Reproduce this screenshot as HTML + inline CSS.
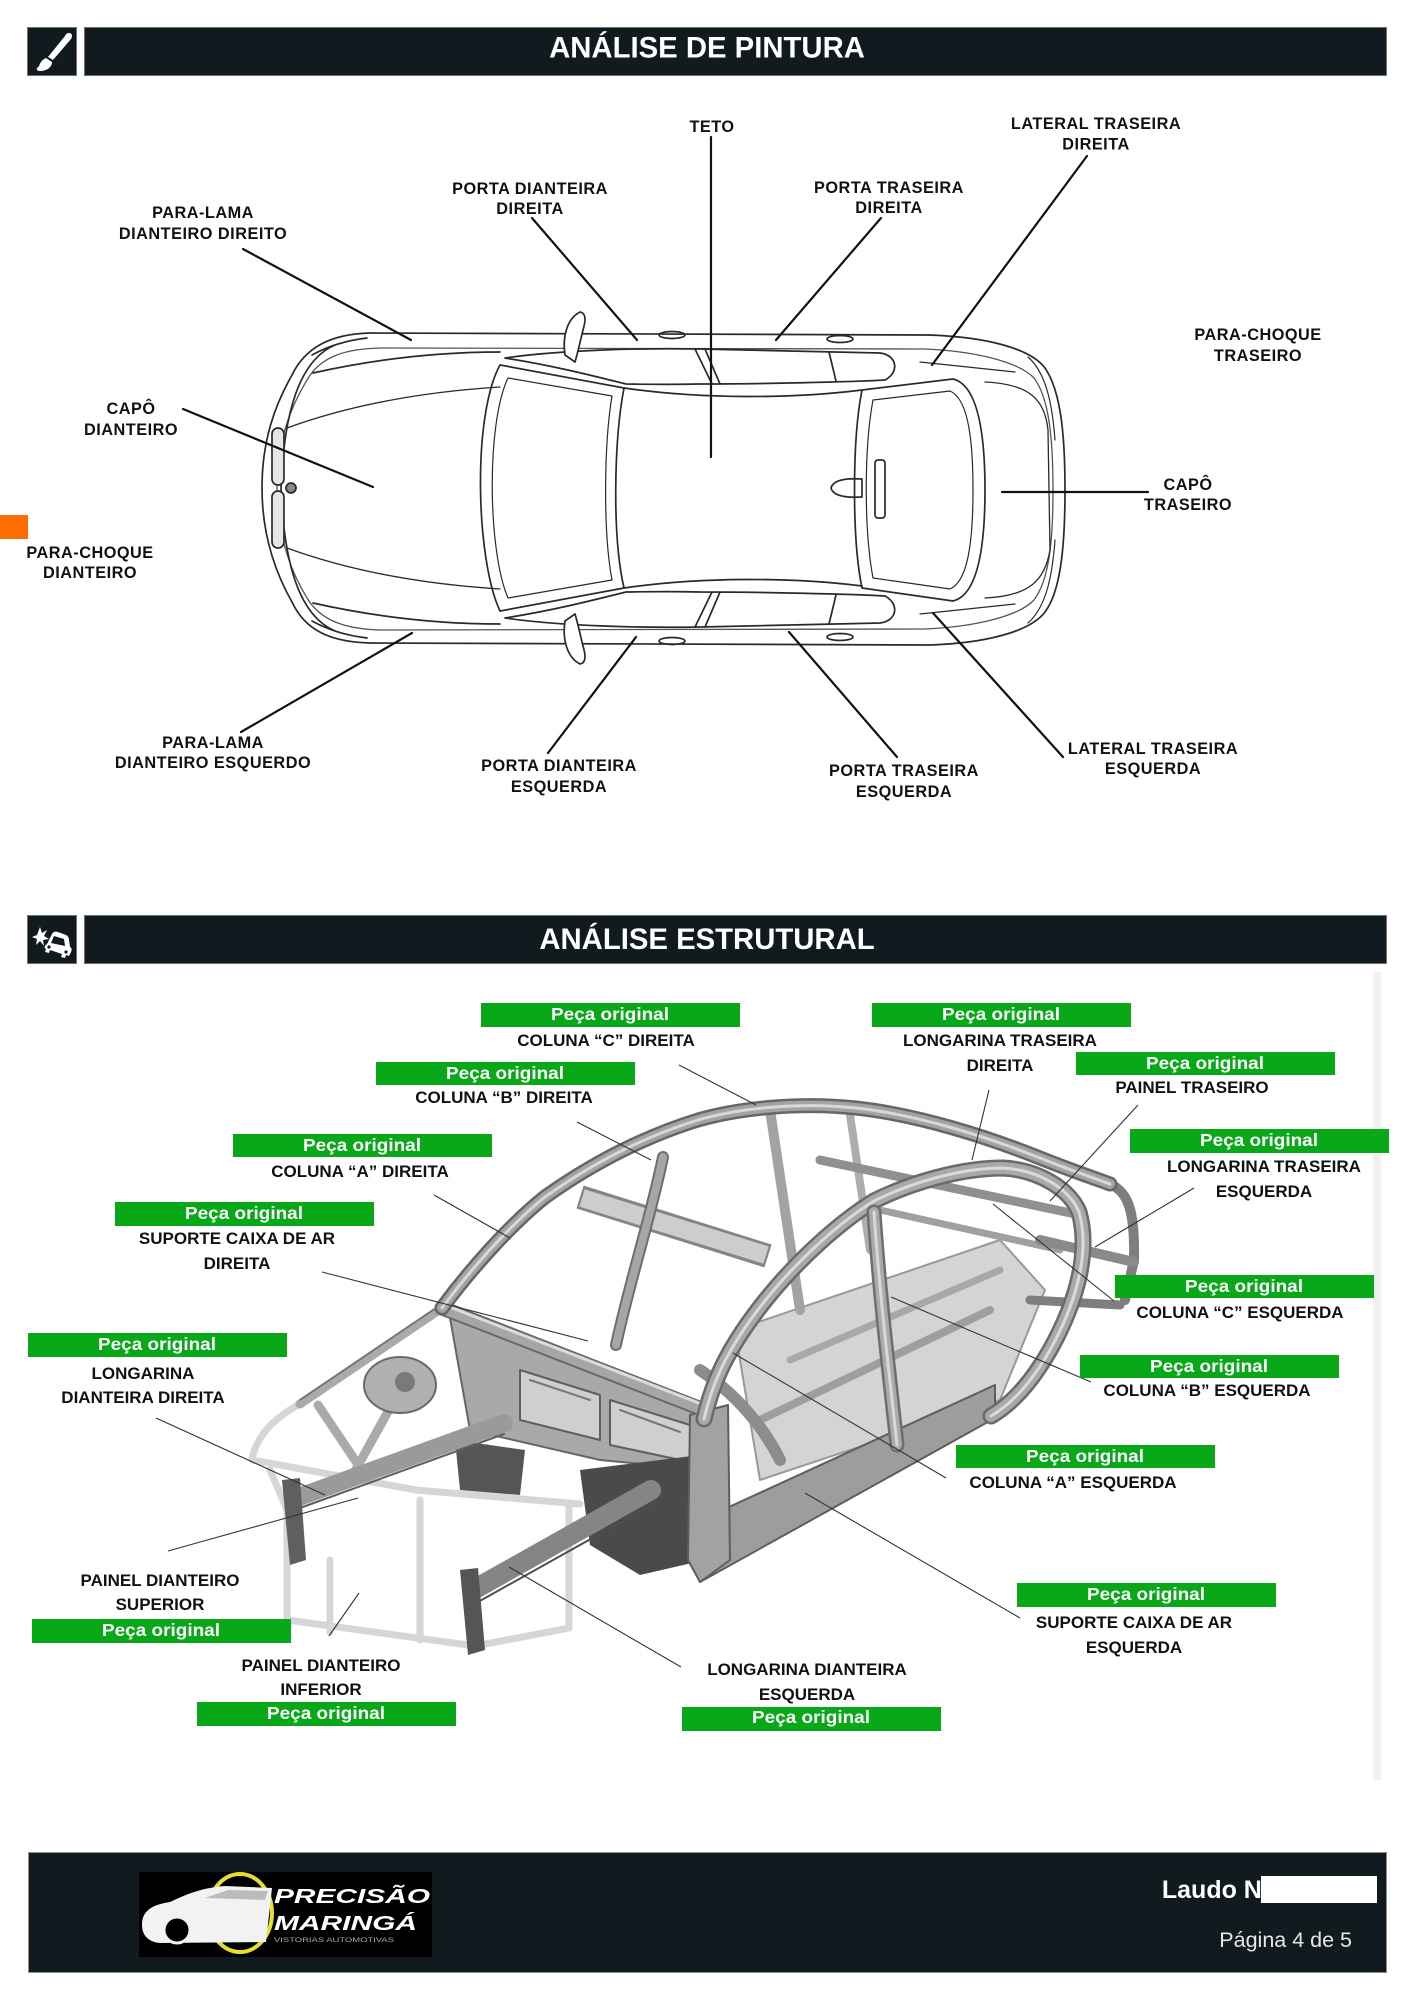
<!DOCTYPE html>
<html><head><meta charset="utf-8"><style>
html,body{margin:0;padding:0;background:#fff;}
body{width:1414px;height:2000px;overflow:hidden;}
svg{display:block;}
.pl{font-family:"Liberation Sans",Arial,sans-serif;font-weight:bold;font-size:16.3px;letter-spacing:0.5px;fill:#111;}
.sl{font-family:"Liberation Sans",Arial,sans-serif;font-weight:bold;font-size:17px;fill:#111;}
.po{font-family:"Liberation Sans",Arial,sans-serif;font-weight:bold;font-size:17.5px;fill:#fff;}
.tt{font-family:"Liberation Sans",Arial,sans-serif;font-weight:bold;font-size:29.3px;fill:#fff;}
</style></head><body>
<svg width="1414" height="2000" viewBox="0 0 1414 2000" xmlns="http://www.w3.org/2000/svg">
<rect width="1414" height="2000" fill="#fff"/>

<!-- ===== HEADER 1 ===== -->
<rect x="27.5" y="27.5" width="49" height="48" fill="#111a1f" stroke="#6b7378" stroke-width="1"/>
<rect x="84.5" y="27.5" width="1302" height="48" fill="#111a1f" stroke="#6b7378" stroke-width="1"/>
<path d="M69,33 C72,33 73,36 71,39 L53,60 L48,57 L65,36 C66,34 67,33 69,33 Z" fill="#fff"/>
<path d="M46,58 L52,62 C52,67 47,71 40,71 C38,71 36,70 37,68 C40,67 39,61 46,58 Z" fill="#fff"/>
<text class="tt" x="707" y="57.5" text-anchor="middle">ANÁLISE DE PINTURA</text>

<!-- orange marker -->
<rect x="0" y="515" width="28" height="24" fill="#ff6d00"/>

<!-- ===== CAR TOP VIEW ===== -->
<g fill="none" stroke="#2a2a2a" stroke-width="1.7" stroke-linejoin="round" stroke-linecap="round">
 <path d="M370,333 L930,335 C985,337 1030,348 1045,368 C1060,390 1065,430 1065,490 C1065,550 1060,592 1045,612 C1030,632 985,643 930,645 L370,643 C330,642 305,630 292,602 C275,572 262,535 262,488 C262,440 275,405 292,375 C305,348 330,334 370,333 Z"/>
 <path stroke="#555" stroke-width="1.3" d="M385,348 L925,349 C972,351 1018,361 1034,378 C1049,398 1053,438 1053,490 C1053,542 1049,580 1034,600 C1018,617 972,627 925,629 L385,630 C345,630 320,620 307,598 C290,570 277,535 277,488 C277,442 290,408 307,380 C320,357 345,348 385,348 Z"/>
 <path d="M335,345 C300,360 284,410 281,488 C284,566 300,616 335,631"/>
 <path d="M312,355 C330,345 350,340 367,338"/>
 <path d="M312,621 C330,631 350,636 367,638"/>
 <path d="M313,373 C380,358 440,352 500,352"/>
 <path d="M313,603 C380,618 440,624 500,624"/>
 <path stroke-width="1.3" d="M287,428 C350,405 420,392 500,387"/>
 <path stroke-width="1.3" d="M287,548 C350,571 420,584 500,589"/>
 <rect x="272" y="428" width="12" height="57" rx="6" fill="#e6e6e6"/>
 <rect x="272" y="491" width="12" height="57" rx="6" fill="#e6e6e6"/>
 <circle cx="291" cy="488" r="5" fill="#888"/>
 <path d="M500,365 L624,388 C614,440 612,536 624,588 L500,611 C476,560 472,416 500,365 Z"/>
 <path stroke-width="1.2" d="M508,378 L612,396 C604,444 603,532 612,580 L508,598 C488,552 486,424 508,378 Z"/>
 <path d="M624,388 C700,399 790,399 862,390"/>
 <path d="M624,588 C700,577 790,577 862,586"/>
 <path d="M505,358 C560,350 640,348 700,349 L880,353 C897,355 900,372 885,380 C850,382 760,384 700,384 C660,385 640,384 626,384 C590,375 550,365 505,358 Z"/>
 <path d="M505,618 C560,626 640,628 700,627 L880,623 C897,621 900,604 885,596 C850,594 760,592 700,592 C660,591 640,592 626,592 C590,601 550,611 505,618 Z"/>
 <path d="M695,349 L712,384 M705,349 L720,384 M695,627 L712,592 M705,627 L720,592"/>
 <path d="M829,352 L836,381 M829,624 L836,595"/>
 <path d="M862,390 L953,379 C974,384 985,420 985,490 C985,560 974,596 953,601 L862,588 C852,540 852,440 862,390 Z"/>
 <path stroke-width="1.2" d="M873,400 L950,391 C966,398 973,430 973,490 C973,550 966,582 950,589 L873,578 C864,530 864,448 873,400 Z"/>
 <rect x="875" y="460" width="10" height="58" rx="3"/>
 <path d="M831,488 C833,480 845,478 862,479 L862,497 C845,498 833,496 831,488 Z"/>
 <path stroke-width="1.3" d="M985,382 C1030,384 1045,400 1048,430 L1050,550 C1045,580 1030,596 985,598"/>
 <path stroke-width="1.2" d="M920,362 L1015,372 M920,614 L1015,604"/>
 <path stroke-width="1.2" d="M1028,357 C1045,372 1052,400 1055,440 M1028,623 C1045,608 1052,580 1055,540"/>
 <path fill="#fff" d="M565,355 C562,335 568,318 580,312 C586,313 586,320 583,330 C580,342 578,352 575,362 Z"/>
 <path fill="#fff" d="M565,621 C562,641 568,658 580,664 C586,663 586,656 583,646 C580,634 578,624 575,614 Z"/>
 <ellipse cx="672" cy="335" rx="13" ry="3.5"/>
 <ellipse cx="840" cy="339" rx="13" ry="3.5"/>
 <ellipse cx="672" cy="641" rx="13" ry="3.5"/>
 <ellipse cx="840" cy="637" rx="13" ry="3.5"/>
</g>

<!-- leader lines painting -->
<g stroke="#111" stroke-width="2.2" stroke-linecap="round">
 <line x1="243" y1="249" x2="411" y2="340"/>
 <line x1="532" y1="218" x2="637" y2="340"/>
 <line x1="711" y1="137" x2="711" y2="457"/>
 <line x1="881" y1="218" x2="776" y2="340"/>
 <line x1="1087" y1="156" x2="932" y2="365"/>
 <line x1="183" y1="409" x2="373" y2="487"/>
 <line x1="1002" y1="492" x2="1148" y2="492"/>
 <line x1="412" y1="633" x2="241" y2="732"/>
 <line x1="548" y1="753" x2="636" y2="637"/>
 <line x1="897" y1="757" x2="789" y2="632"/>
 <line x1="1063" y1="757" x2="933" y2="613"/>
</g>

<g class="pl" text-anchor="middle">
 <text x="712" y="132">TETO</text>
 <text x="1096" y="129">LATERAL TRASEIRA</text><text x="1096" y="149.5">DIREITA</text>
 <text x="530" y="194">PORTA DIANTEIRA</text><text x="530" y="214">DIREITA</text>
 <text x="889" y="193">PORTA TRASEIRA</text><text x="889" y="213">DIREITA</text>
 <text x="203" y="218">PARA-LAMA</text><text x="203" y="239">DIANTEIRO DIREITO</text>
 <text x="1258" y="340">PARA-CHOQUE</text><text x="1258" y="361">TRASEIRO</text>
 <text x="131" y="414">CAPÔ</text><text x="131" y="435">DIANTEIRO</text>
 <text x="1188" y="490">CAPÔ</text><text x="1188" y="510">TRASEIRO</text>
 <text x="90" y="558">PARA-CHOQUE</text><text x="90" y="578">DIANTEIRO</text>
 <text x="213" y="748">PARA-LAMA</text><text x="213" y="768">DIANTEIRO ESQUERDO</text>
 <text x="559" y="771">PORTA DIANTEIRA</text><text x="559" y="792">ESQUERDA</text>
 <text x="904" y="776">PORTA TRASEIRA</text><text x="904" y="797">ESQUERDA</text>
 <text x="1153" y="754">LATERAL TRASEIRA</text><text x="1153" y="774">ESQUERDA</text>
</g>

<!-- ===== HEADER 2 ===== -->
<rect x="27.5" y="915.5" width="49" height="48" fill="#111a1f" stroke="#6b7378" stroke-width="1"/>
<rect x="84.5" y="915.5" width="1302" height="48" fill="#111a1f" stroke="#6b7378" stroke-width="1"/>
<polygon points="40,927 42,933 47,930 44,936 49,939 43,940 44,946 40,941 36,945 37,939 32,937 37,935" fill="#fff"/>
<path d="M47,944 L52,934 C53,932 55,931 58,932 L66,935 C68,936 69,938 69,940 L70,947 C72,948 72,950 71,952 L69,956 L66,955 L65,958 L61,957 L62,954 L50,950 L49,953 L45,952 L46,949 C44,948 44,946 47,944 Z" fill="#fff"/>
<path d="M51,943 L54,936 L64,939 L65,946 Z" fill="#111a1f"/>
<circle cx="49" cy="947" r="1.6" fill="#111a1f"/><circle cx="66" cy="952" r="1.6" fill="#111a1f"/>
<text class="tt" x="707" y="949" text-anchor="middle">ANÁLISE ESTRUTURAL</text>

<rect x="1373" y="972" width="8" height="808" fill="#f1f1f1"/>

<!-- ===== CHASSIS ===== -->
<g stroke-linecap="round" stroke-linejoin="round" fill="none">
 <g stroke="#d6d6d6" stroke-width="7">
  <path d="M252,1460 L416,1490 L580,1504"/>
  <path d="M287,1500 L287,1620 L475,1646 L569,1628 L569,1504"/>
  <path d="M300,1404 C270,1420 255,1440 252,1460"/>
  <path d="M330,1560 L330,1632"/>
  <path d="M420,1500 L420,1640"/>
  <path d="M270,1470 L300,1540"/>
 </g>
 <g stroke="#aaaaaa" stroke-width="9">
  <path d="M300,1404 L442,1308"/>
  <path d="M318,1405 L365,1475"/>
  <path d="M350,1480 L400,1390"/>
 </g>
 <path d="M300,1400 L442,1304" stroke="#6e6e6e" stroke-width="1.5"/>
 <ellipse cx="400" cy="1385" rx="36" ry="28" fill="#b0b0b0" stroke="#6a6a6a" stroke-width="2"/>
 <circle cx="405" cy="1382" r="10" fill="#7a7a7a"/>
 <path d="M450,1318 L704,1412 L706,1470 L600,1460 L470,1430 Z" fill="#a9a9a9" stroke="#666" stroke-width="2"/>
 <path d="M520,1370 L600,1395 L600,1440 L520,1420 Z M610,1400 L690,1425 L690,1462 L610,1445 Z" fill="#cfcfcf" stroke="#5e5e5e" stroke-width="2"/>
 <path d="M530,1380 L590,1400 M620,1410 L680,1432" stroke="#777" stroke-width="2"/>
 <path d="M455,1440 L525,1450 L520,1495 L460,1490 Z" fill="#555"/>
 <path d="M580,1470 L700,1455 L705,1560 L640,1575 L590,1545 Z" fill="#4a4a4a"/>
 <path d="M299,1497 L504,1423" stroke="#9a9a9a" stroke-width="18"/>
 <path d="M300,1508 L504,1434" stroke="#5e5e5e" stroke-width="2"/>
 <path d="M282,1480 L300,1478 L306,1560 L290,1565 Z" fill="#5f5f5f"/>
 <path d="M735,1330 L1000,1240 L1045,1290 L1000,1400 L760,1480 Z" fill="#d4d4d4" stroke="#999" stroke-width="2"/>
 <path d="M760,1420 L990,1310" stroke="#9e9e9e" stroke-width="8"/>
 <path d="M790,1360 L1000,1270" stroke="#a8a8a8" stroke-width="7"/>
 <path d="M700,1370 C730,1390 760,1420 780,1460" stroke="#8c8c8c" stroke-width="12"/>
 <path d="M475,1589 L651,1490" stroke="#858585" stroke-width="20"/>
 <path d="M478,1602 L655,1503" stroke="#4e4e4e" stroke-width="2"/>
 <path d="M460,1570 L478,1568 L485,1650 L468,1655 Z" fill="#555"/>
 <path d="M705,1518 L995,1385 L995,1418 L700,1582 Z" fill="#9d9d9d" stroke="#5e5e5e" stroke-width="2"/>
 <path d="M690,1415 L728,1405 L730,1560 L700,1582 L688,1560 Z" fill="#a2a2a2" stroke="#5e5e5e" stroke-width="2"/>
 <path d="M442,1308 L704,1410" stroke="#6a6a6a" stroke-width="15"/>
 <path d="M442,1308 L704,1410" stroke="#a6a6a6" stroke-width="11"/>
 <path d="M442,1304 L704,1405" stroke="#dcdcdc" stroke-width="3"/>
 <path d="M580,1197 L768,1256" stroke="#858585" stroke-width="24" stroke-linecap="butt"/>
 <path d="M582,1198 L766,1255" stroke="#cdcdcd" stroke-width="18" stroke-linecap="butt"/>
 <path d="M663,1157 C650,1220 630,1280 616,1345" stroke="#6e6e6e" stroke-width="12"/>
 <path d="M663,1157 C650,1220 630,1280 616,1345" stroke="#a6a6a6" stroke-width="8"/>
 <path d="M770,1110 C780,1180 790,1240 800,1310" stroke="#a3a3a3" stroke-width="10"/>
 <path d="M850,1115 L870,1250" stroke="#adadad" stroke-width="8"/>
 <path d="M820,1160 L1080,1215" stroke="#909090" stroke-width="9"/>
 <path d="M880,1210 L1060,1250" stroke="#a0a0a0" stroke-width="7"/>
 <path d="M1110,1184 C1128,1192 1135,1210 1134,1260 L1125,1300" stroke="#7e7e7e" stroke-width="10"/>
 <path d="M1040,1240 L1134,1262" stroke="#8a8a8a" stroke-width="10"/>
 <path d="M1030,1300 L1120,1305" stroke="#7e7e7e" stroke-width="9"/>
 <path d="M442,1308 C470,1270 510,1225 545,1197 C590,1165 640,1138 698,1120 C740,1108 800,1102 856,1108 C920,1115 990,1138 1040,1158 C1075,1172 1100,1180 1110,1184" stroke="#666" stroke-width="15"/>
 <path d="M442,1308 C470,1270 510,1225 545,1197 C590,1165 640,1138 698,1120 C740,1108 800,1102 856,1108 C920,1115 990,1138 1040,1158 C1075,1172 1100,1180 1110,1184" stroke="#a3a3a3" stroke-width="10"/>
 <path d="M442,1308 C470,1270 510,1225 545,1197 C590,1165 640,1138 698,1120 C740,1108 800,1102 856,1108 C920,1115 990,1138 1040,1158 C1075,1172 1100,1180 1110,1184" stroke="#d8d8d8" stroke-width="3"/>
 <path d="M704,1419 C712,1385 725,1350 768,1297 C800,1258 840,1222 874,1201 C910,1183 960,1168 1003,1168 C1040,1170 1070,1190 1079,1212 C1090,1250 1078,1300 1050,1350 C1030,1385 1010,1405 991,1416" stroke="#6a6a6a" stroke-width="17"/>
 <path d="M704,1419 C712,1385 725,1350 768,1297 C800,1258 840,1222 874,1201 C910,1183 960,1168 1003,1168 C1040,1170 1070,1190 1079,1212 C1090,1250 1078,1300 1050,1350 C1030,1385 1010,1405 991,1416" stroke="#a8a8a8" stroke-width="12"/>
 <path d="M704,1419 C712,1385 725,1350 768,1297 C800,1258 840,1222 874,1201 C910,1183 960,1168 1003,1168 C1040,1170 1070,1190 1079,1212 C1090,1250 1078,1300 1050,1350 C1030,1385 1010,1405 991,1416" stroke="#dadada" stroke-width="3"/>
 <path d="M874,1212 C880,1300 890,1380 897,1445" stroke="#6e6e6e" stroke-width="15"/>
 <path d="M874,1212 C880,1300 890,1380 897,1445" stroke="#aaaaaa" stroke-width="10"/>
 <path d="M874,1212 C880,1300 890,1380 897,1445" stroke="#d8d8d8" stroke-width="3"/>
</g>

<!-- leader lines structural -->
<g stroke="#333" stroke-width="1.1">
 <line x1="679" y1="1065" x2="756" y2="1105"/>
 <line x1="989" y1="1090" x2="972" y2="1160"/>
 <line x1="577" y1="1122" x2="651" y2="1160"/>
 <line x1="1138" y1="1105" x2="1050" y2="1201"/>
 <line x1="434" y1="1195" x2="510" y2="1238"/>
 <line x1="1194" y1="1188" x2="1095" y2="1247"/>
 <line x1="322" y1="1272" x2="588" y2="1341"/>
 <line x1="1114" y1="1301" x2="993" y2="1204"/>
 <line x1="156" y1="1418" x2="325" y2="1495"/>
 <line x1="1091" y1="1382" x2="891" y2="1297"/>
 <line x1="946" y1="1478" x2="733" y2="1353"/>
 <line x1="1020" y1="1618" x2="805" y2="1493"/>
 <line x1="168" y1="1551" x2="358" y2="1498"/>
 <line x1="329" y1="1636" x2="359" y2="1593"/>
 <line x1="681" y1="1667" x2="509" y2="1567"/>
</g>

<g fill="#08a819">
 <rect x="481" y="1003" width="259" height="24"/>
 <rect x="872" y="1003" width="259" height="24"/>
 <rect x="376" y="1062" width="259" height="23"/>
 <rect x="1076" y="1052" width="259" height="23"/>
 <rect x="233" y="1134" width="259" height="23"/>
 <rect x="1130" y="1129" width="259" height="24"/>
 <rect x="115" y="1202" width="259" height="24"/>
 <rect x="1115" y="1275" width="259" height="23"/>
 <rect x="28" y="1333" width="259" height="24"/>
 <rect x="1080" y="1355" width="259" height="23"/>
 <rect x="956" y="1445" width="259" height="23"/>
 <rect x="1017" y="1583" width="259" height="24"/>
 <rect x="32" y="1619" width="259" height="24"/>
 <rect x="197" y="1702" width="259" height="24"/>
 <rect x="682" y="1707" width="259" height="24"/>
</g>
<g class="po" text-anchor="middle">
 <text x="610" y="1020" textLength="118" lengthAdjust="spacingAndGlyphs">Peça original</text>
 <text x="1001" y="1020" textLength="118" lengthAdjust="spacingAndGlyphs">Peça original</text>
 <text x="505" y="1079" textLength="118" lengthAdjust="spacingAndGlyphs">Peça original</text>
 <text x="1205" y="1069" textLength="118" lengthAdjust="spacingAndGlyphs">Peça original</text>
 <text x="362" y="1151" textLength="118" lengthAdjust="spacingAndGlyphs">Peça original</text>
 <text x="1259" y="1146" textLength="118" lengthAdjust="spacingAndGlyphs">Peça original</text>
 <text x="244" y="1219" textLength="118" lengthAdjust="spacingAndGlyphs">Peça original</text>
 <text x="1244" y="1292" textLength="118" lengthAdjust="spacingAndGlyphs">Peça original</text>
 <text x="157" y="1350" textLength="118" lengthAdjust="spacingAndGlyphs">Peça original</text>
 <text x="1209" y="1372" textLength="118" lengthAdjust="spacingAndGlyphs">Peça original</text>
 <text x="1085" y="1462" textLength="118" lengthAdjust="spacingAndGlyphs">Peça original</text>
 <text x="1146" y="1600" textLength="118" lengthAdjust="spacingAndGlyphs">Peça original</text>
 <text x="161" y="1636" textLength="118" lengthAdjust="spacingAndGlyphs">Peça original</text>
 <text x="326" y="1719" textLength="118" lengthAdjust="spacingAndGlyphs">Peça original</text>
 <text x="811" y="1723" textLength="118" lengthAdjust="spacingAndGlyphs">Peça original</text>
</g>
<g class="sl" text-anchor="middle">
 <text x="606" y="1046">COLUNA “C” DIREITA</text>
 <text x="1000" y="1046">LONGARINA TRASEIRA</text><text x="1000" y="1071">DIREITA</text>
 <text x="504" y="1103">COLUNA “B” DIREITA</text>
 <text x="1192" y="1093">PAINEL TRASEIRO</text>
 <text x="360" y="1177">COLUNA “A” DIREITA</text>
 <text x="1264" y="1172">LONGARINA TRASEIRA</text><text x="1264" y="1197">ESQUERDA</text>
 <text x="237" y="1244">SUPORTE CAIXA DE AR</text><text x="237" y="1269">DIREITA</text>
 <text x="1240" y="1318">COLUNA “C” ESQUERDA</text>
 <text x="143" y="1379">LONGARINA</text><text x="143" y="1403">DIANTEIRA DIREITA</text>
 <text x="1207" y="1396">COLUNA “B” ESQUERDA</text>
 <text x="1073" y="1488">COLUNA “A” ESQUERDA</text>
 <text x="1134" y="1628">SUPORTE CAIXA DE AR</text><text x="1134" y="1653">ESQUERDA</text>
 <text x="160" y="1586">PAINEL DIANTEIRO</text><text x="160" y="1610">SUPERIOR</text>
 <text x="321" y="1671">PAINEL DIANTEIRO</text><text x="321" y="1695">INFERIOR</text>
 <text x="807" y="1675">LONGARINA DIANTEIRA</text><text x="807" y="1700">ESQUERDA</text>
</g>

<!-- ===== FOOTER ===== -->
<rect x="28.5" y="1852.5" width="1358" height="120" fill="#111a1f" stroke="#8a9095" stroke-width="1"/>
<rect x="139" y="1872" width="293" height="85" fill="#000"/>
<ellipse cx="240" cy="1913" rx="32" ry="39" fill="none" stroke="#e6df2e" stroke-width="4"/>
<path d="M142,1925 C142,1912 150,1905 170,1902 C185,1895 200,1888 225,1886 L272,1888 L266,1942 L160,1943 C148,1942 142,1935 142,1925 Z" fill="#f2f2f2"/>
<path d="M205,1898 L228,1890 L268,1891 L265,1900 Z" fill="#bbb"/>
<circle cx="177" cy="1930" r="13" fill="#000" stroke="#f2f2f2" stroke-width="3"/>
<g font-family="Liberation Sans, Arial, sans-serif" font-weight="bold" font-style="italic" fill="#fff">
 <text x="274" y="1903" font-size="20" textLength="156" lengthAdjust="spacingAndGlyphs">PRECISÃO</text>
 <text x="274" y="1930" font-size="20" textLength="143" lengthAdjust="spacingAndGlyphs">MARINGÁ</text>
</g>
<text x="274" y="1942" font-family="Liberation Sans, Arial, sans-serif" font-size="6" fill="#aaa" textLength="120" lengthAdjust="spacingAndGlyphs">VISTORIAS AUTOMOTIVAS</text>
<text x="1271" y="1898" text-anchor="end" font-family="Liberation Sans, Arial, sans-serif" font-weight="bold" font-size="25" fill="#fff">Laudo Nº</text>
<rect x="1261" y="1876" width="116" height="27" fill="#fff"/>
<text x="1352" y="1947" text-anchor="end" font-family="Liberation Sans, Arial, sans-serif" font-size="21.5" fill="#e8e8e8">Página 4 de 5</text>
</svg>
</body></html>
